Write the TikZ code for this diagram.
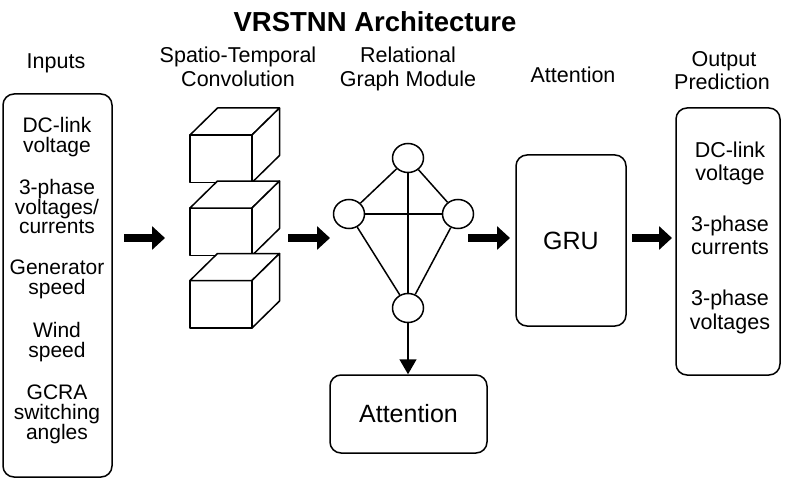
\documentclass[tikz,border=0pt]{standalone}
\usepackage{fontspec}
\setmainfont{Liberation Sans}
\usetikzlibrary{arrows.meta,shapes.geometric}
\newcommand\drawcube[2]{%
  \filldraw[cubeface] (#1,#2) rectangle ++(62,47.5);
  \filldraw[cubeface] (#1,#2) -- ++(27.5,-27) -- ++(62,0) -- ++(-27.5,27) -- cycle;
  \filldraw[cubeface] (#1+62,#2) -- ++(27.5,-27) -- ++(0,47.5) -- ++(-27.5,27) -- cycle;
}
\begin{document}
\begin{tikzpicture}[x=1pt,y=-1pt,
  frame/.style={draw, line width=1.5pt, rounded corners=11pt, inner sep=0pt, fill=white},
  txt/.style={anchor=base, inner sep=0pt, font=\fontsize{21}{24}\selectfont},
  outtxt/.style={anchor=base, inner sep=0pt, font=\fontsize{21.5}{24}\selectfont},
  lbl/.style={anchor=base, inner sep=0pt, font=\fontsize{21.5}{24}\selectfont},
  gnode/.style={draw, ellipse, line width=1.5pt, minimum width=31pt, minimum height=29pt, inner sep=0pt, fill=white},
  gedge/.style={line width=1.5pt},
  bigarrow/.style={line width=7.5pt, -{Triangle[length=13pt,width=23pt]}},
  cubeface/.style={draw, line width=1.5pt, fill=white, line join=round}
]
\useasboundingbox[fill=white] (0,0) rectangle (786,489);

% title
\node[anchor=base, inner sep=0pt, font=\fontsize{27.5}{30}\selectfont\bfseries] (title) at (375,32) {VRSTNN Architecture};

% column labels
\node[lbl] (linputs) at (56,69) {Inputs};
\node[lbl] (lconv1) at (238,63) {Spatio-Temporal};
\node[lbl] (lconv2) at (238,87) {Convolution};
\node[lbl] (lgraph1) at (408,63) {Relational};
\node[lbl] (lgraph2) at (408,87) {Graph Module};
\node[lbl] (latt) at (573,83) {Attention};
\node[lbl] (lout1) at (724,67) {Output};
\node[lbl] (lout2) at (722,90) {Prediction};

% inputs box
\node[frame, minimum width=109pt, minimum height=383pt] (inbox) at (57.5,285.5) {};
\node[txt] (i1) at (57,132.5) {DC-link};
\node[txt] (i2) at (57,152.5) {voltage};
\node[txt] (i3) at (57,194.5) {3-phase};
\node[txt] (i4) at (57,214.5) {voltages/};
\node[txt] (i5) at (57,233.5) {currents};
\node[txt] (i6) at (57,274.5) {Generator};
\node[txt] (i7) at (57,294.5) {speed};
\node[txt] (i8) at (57,337.5) {Wind};
\node[txt] (i9) at (57,357.5) {speed};
\node[txt] (i10) at (57,399.5) {GCRA};
\node[txt] (i11) at (57,419.5) {switching};
\node[txt] (i12) at (57,439.5) {angles};

% cubes
\drawcube{190}{135}
\drawcube{190}{208}
\drawcube{190}{280.5}

% graph
\node[gnode] (gt) at (408,158) {};
\node[gnode] (gl) at (349,214) {};
\node[gnode] (gr) at (458,214) {};
\node[gnode] (gb) at (408,308) {};
\draw[gedge] (gt) -- (gl);
\draw[gedge] (gt) -- (gr);
\draw[gedge] (gt) -- (gb);
\draw[gedge] (gl) -- (gr);
\draw[gedge] (gl) -- (gb);
\draw[gedge] (gr) -- (gb);

% attention box below graph
\node[frame, minimum width=157pt, minimum height=78pt, font=\fontsize{25}{28}\selectfont] (att) at (408.5,414) {Attention};
\draw[gedge, -{Triangle[length=15pt,width=17pt]}] (gb) -- (gb |- att.north);

% GRU
\node[frame, minimum width=110pt, minimum height=171pt, font=\fontsize{25}{28}\selectfont] (gru) at (571,240.5) {GRU};

% output box
\node[frame, minimum width=104pt, minimum height=267pt] (outbox) at (728,241.5) {};
\node[outtxt] (o1) at (730,157.5) {DC-link};
\node[outtxt] (o2) at (730,180.5) {voltage};
\node[outtxt] (o3) at (730,231.5) {3-phase};
\node[outtxt] (o4) at (730,254.5) {currents};
\node[outtxt] (o5) at (730,305.5) {3-phase};
\node[outtxt] (o6) at (730,329.5) {voltages};

% block arrows
\coordinate (a1s) at (124,238); \coordinate (a1e) at (165,238);
\coordinate (a2s) at (288,238); \coordinate (a2e) at (330,238);
\coordinate (a3s) at (468,238); \coordinate (a3e) at (510,238);
\coordinate (a4s) at (632,238); \coordinate (a4e) at (672,238);
\draw[bigarrow] (a1s) -- (a1e);
\draw[bigarrow] (a2s) -- (a2e);
\draw[bigarrow] (a3s) -- (a3e);
\draw[bigarrow] (a4s) -- (a4e);
\end{tikzpicture}
\end{document}
